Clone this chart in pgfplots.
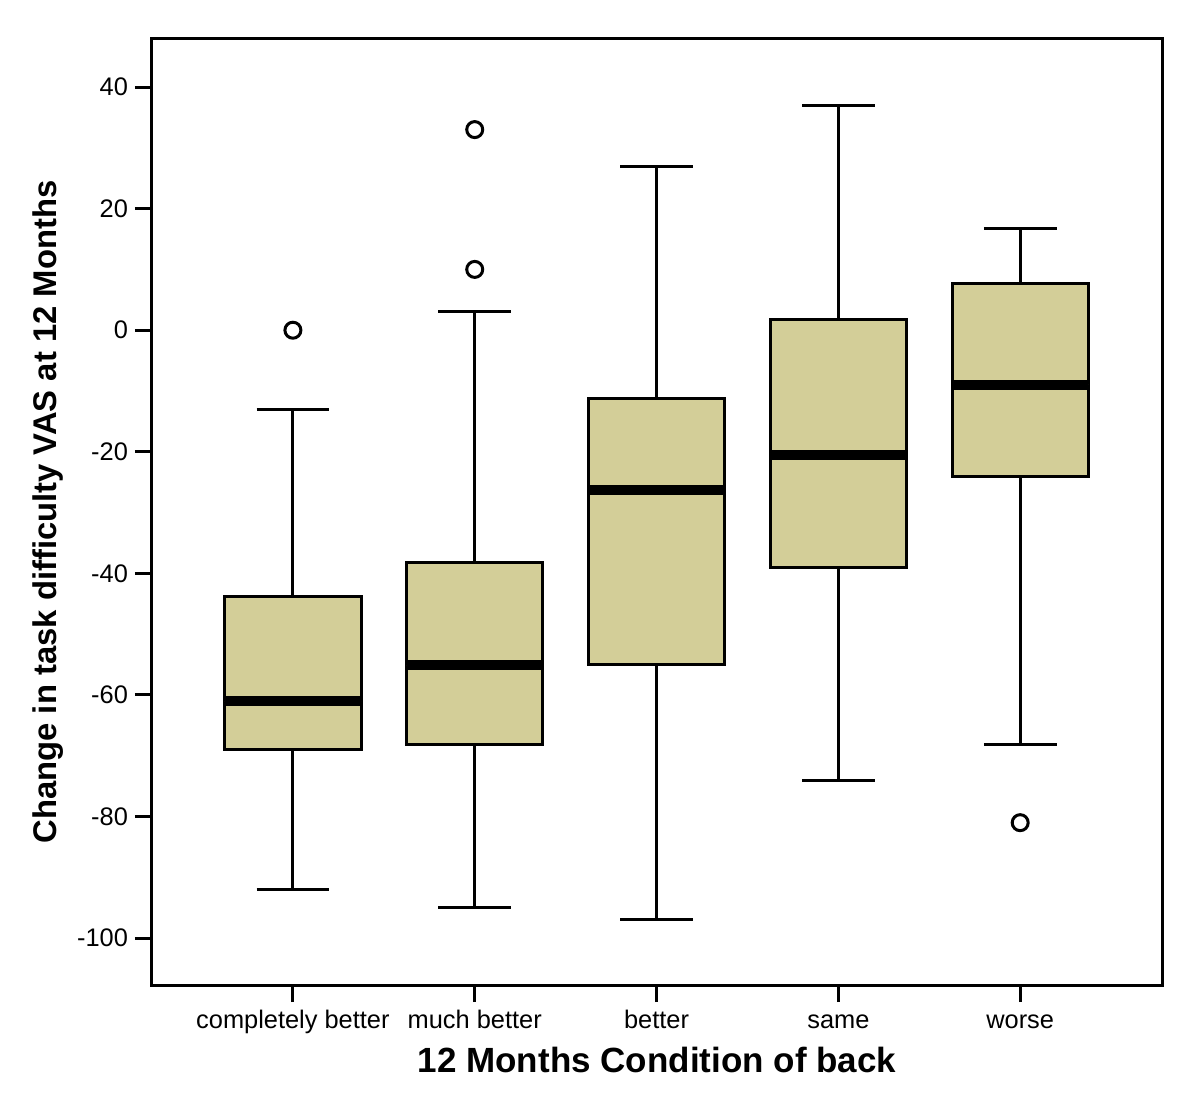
\documentclass[border=0pt]{standalone}
\usepackage{pgfplots}
\pgfplotsset{compat=1.18}
\usepgfplotslibrary{statistics}
\usepackage{fontspec}
\setmainfont{Liberation Sans}
\definecolor{boxfill}{RGB}{211,206,152}
\begin{document}
\begin{tikzpicture}
\begin{axis}[
  scale only axis, width=505bp, height=473bp,
  xmin=-0.775, xmax=4.78, ymin=-107.7, ymax=47.9,
  axis line style={line width=1.5bp},
  xtick={0,1,2,3,4},
  xticklabels={completely better, much better, better, same, worse},
  ytick={-100,-80,-60,-40,-20,0,20,40},
  tick align=outside, major tick length=8.5bp,
  tick style={line width=1.5bp, black},
  tick pos=left,
  /pgf/number format/assume math mode=true,
  tick label style={font=\fontsize{12.7bp}{14bp}\selectfont},
  xticklabel style={text height=0.75em, text depth=0.22em, yshift=-2.5bp},
  xlabel={12 Months Condition of back},
  ylabel={Change in task difficulty VAS at 12 Months},
  xlabel style={font=\fontsize{17.5bp}{20bp}\selectfont\bfseries, at={(axis description cs:0.5,-0.0793)}, anchor=center},
  ylabel style={font=\fontsize{16.4bp}{20bp}\selectfont\bfseries, at={(axis description cs:-0.103,0.5)}, anchor=center},
  boxplot/draw direction=y,
  boxplot/box extend=0.75,
  boxplot/whisker extend=0.4,
  boxplot/every median/.style={line width=5bp},
]
\addplot[draw=black, fill=boxfill, line width=1.5bp, mark=o, mark size=4bp, mark options={line width=1.5bp, fill=none},
  boxplot prepared={draw position=0, lower whisker=-92, lower quartile=-69, median=-61, upper quartile=-43.75, upper whisker=-13}]
  coordinates {(0,0)};
\addplot[draw=black, fill=boxfill, line width=1.5bp, mark=o, mark size=4bp, mark options={line width=1.5bp, fill=none},
  boxplot prepared={draw position=1, lower whisker=-95, lower quartile=-68.1, median=-55.1, upper quartile=-38.2, upper whisker=3}]
  coordinates {(1,33) (1,10)};
\addplot[draw=black, fill=boxfill, line width=1.5bp, mark=o, mark size=4bp, mark options={line width=1.5bp, fill=none},
  boxplot prepared={draw position=2, lower whisker=-97, lower quartile=-55, median=-26.2, upper quartile=-11.2, upper whisker=27}]
  coordinates {};
\addplot[draw=black, fill=boxfill, line width=1.5bp, mark=o, mark size=4bp, mark options={line width=1.5bp, fill=none},
  boxplot prepared={draw position=3, lower whisker=-74, lower quartile=-39.1, median=-20.6, upper quartile=1.8, upper whisker=37}]
  coordinates {};
\addplot[draw=black, fill=boxfill, line width=1.5bp, mark=o, mark size=4bp, mark options={line width=1.5bp, fill=none},
  boxplot prepared={draw position=4, lower whisker=-68.1, lower quartile=-24, median=-9, upper quartile=7.7, upper whisker=16.8}]
  coordinates {(4,-81)};
\coordinate (sw) at (rel axis cs:0,0);
\coordinate (ne) at (rel axis cs:1,1);
\end{axis}
\pgfresetboundingbox
\path[use as bounding box] ([shift={(-76bp,-59.5bp)}]sw) rectangle ([shift={(19bp,19.5bp)}]ne);
\end{tikzpicture}
\end{document}
